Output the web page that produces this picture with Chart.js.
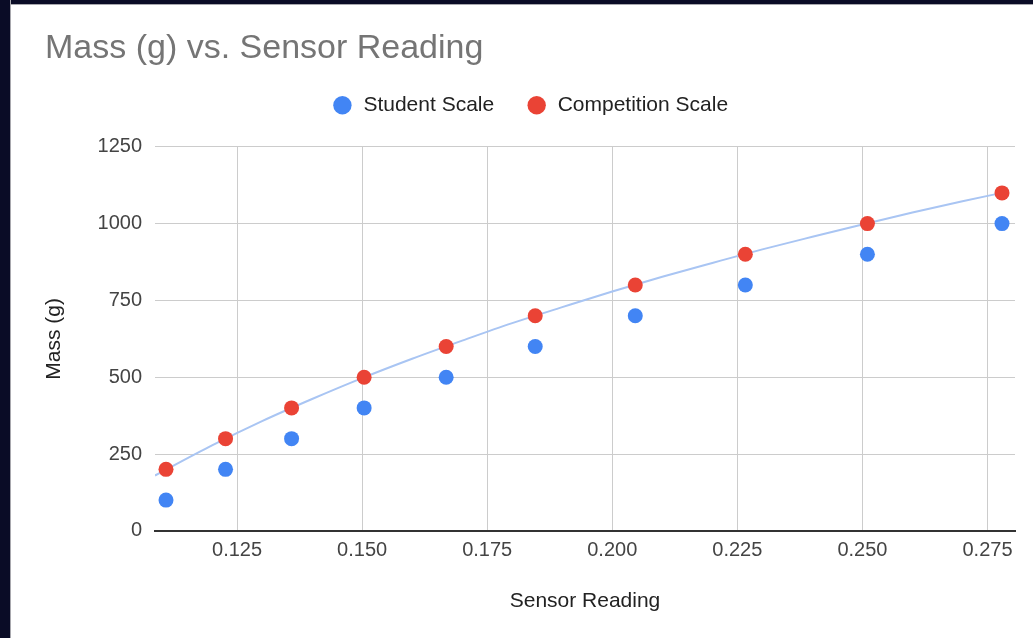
<!DOCTYPE html>
<html>
<head>
<meta charset="utf-8">
<title>Mass (g) vs. Sensor Reading</title>
<script src="https://cdn.jsdelivr.net/npm/chart.js@4.4.1/dist/chart.umd.min.js"></script>
<style>
  html, body { margin: 0; padding: 0; background: #fff; }
  body { width: 1033px; height: 638px; position: relative; overflow: hidden; }
  /* dark slide frame along the top and left edges */
  .frame-top { position: absolute; left: 0; top: 0; width: 1033px; height: 4px; background: #0a0c26; border-bottom: 1px solid #a8a8ae; }
  .frame-left { position: absolute; left: 0; top: 0; width: 10px; height: 638px; background: #0a0c26; border-right: 1px solid #a8a8ae; }
  #wrap { position: absolute; left: 0; top: 0; width: 1033px; height: 638px; }
</style>
</head>
<body>
<div id="wrap"><canvas id="massChart"></canvas></div>
<div class="frame-top"></div>
<div class="frame-left"></div>
<script>
// ---------------------- DATA ----------------------
const sensorReading = [0.1108, 0.1227, 0.1359, 0.1504, 0.1668, 0.1846, 0.2046, 0.2266, 0.2510, 0.2779];
const studentScale = [100, 200, 300, 400, 500, 600, 700, 800, 900, 1000];
const competitionScale = [200, 300, 400, 500, 600, 700, 800, 900, 1000, 1100];

// trendline through the competition readings
const trendReading = [0.1086, 0.12, 0.13, 0.14, 0.15, 0.16, 0.17, 0.18, 0.19, 0.20, 0.21, 0.22, 0.23, 0.24, 0.25, 0.26, 0.27, 0.2779];
const trendMass = [180, 278, 357, 429, 497, 560, 619, 676, 728, 779, 827, 872, 916, 957, 997, 1036, 1073, 1100];

const xTicks = [0.125, 0.150, 0.175, 0.200, 0.225, 0.250, 0.275];
const yTicks = [0, 250, 500, 750, 1000, 1250];

const toPoints = (xs, ys) => xs.map((x, i) => ({ x, y: ys[i] }));

// ---------------------- LEGEND SPACING ----------------------
const legendSpacer = {
  id: "legendSpacer",
  beforeInit(chart) {
    const fit = chart.legend.fit;
    chart.legend.fit = function () {
      fit.call(this);
      this.height += 21;
    };
  },
};

// ---------------------- CHART ----------------------
Chart.defaults.font.family = "'Liberation Sans', Arial, sans-serif";

new Chart(document.getElementById("massChart"), {
  type: "scatter",
  data: {
    datasets: [
      {
        label: "Student Scale",
        data: toPoints(sensorReading, studentScale),
        backgroundColor: "#4285f4",
        borderWidth: 0,
        pointRadius: 7.5,
        pointHoverRadius: 7.5,
        order: 1,
      },
      {
        label: "Competition Scale",
        data: toPoints(sensorReading, competitionScale),
        backgroundColor: "#ea4335",
        borderWidth: 0,
        pointRadius: 7.5,
        pointHoverRadius: 7.5,
        order: 2,
      },
      {
        label: "Trendline",
        data: toPoints(trendReading, trendMass),
        showLine: true,
        borderColor: "#a9c5f3",
        borderWidth: 2,
        pointRadius: 0,
        cubicInterpolationMode: "monotone",
        order: 3,
      },
    ],
  },
  options: {
    responsive: true,
    maintainAspectRatio: false,
    animation: false,
    events: [],
    layout: { padding: { left: 45, right: 18, top: 0, bottom: 24 } },
    plugins: {
      title: {
        display: true,
        text: "Mass (g) vs. Sensor Reading",
        align: "start",
        color: "#757575",
        font: { size: 34, weight: "normal" },
        padding: { top: 28, bottom: -6 },
      },
      legend: {
        position: "top",
        labels: {
          usePointStyle: true,
          pointStyle: "circle",
          boxHeight: 13,
          color: "#222",
          font: { size: 21 },
          padding: 32,
          filter: (item) => item.text !== "Trendline",
        },
      },
      tooltip: { enabled: false },
    },
    scales: {
      x: {
        type: "linear",
        min: 0.1086,
        max: 0.2805,
        afterBuildTicks: (scale) => {
          scale.ticks = xTicks.map((v) => ({ value: v }));
        },
        ticks: {
          color: "#444",
          font: { size: 20 },
          padding: 8,
          callback: (v) => v.toFixed(3),
        },
        grid: { color: "#cccccc", lineWidth: 1, drawTicks: false },
        border: { display: true, color: "#333", width: 2 },
        title: {
          display: true,
          text: "Sensor Reading",
          color: "#222",
          font: { size: 21 },
          padding: { top: 18, bottom: 0 },
        },
      },
      y: {
        min: 0,
        max: 1250,
        afterBuildTicks: (scale) => {
          scale.ticks = yTicks.map((v) => ({ value: v }));
        },
        afterFit: (scale) => {
          scale.width = 110;
        },
        ticks: {
          color: "#444",
          font: { size: 20 },
          padding: 13,
          callback: (v) => String(v),
        },
        grid: {
          color: (c) => (c.tick && c.tick.value === 0 ? "rgba(0,0,0,0)" : "#cccccc"),
          lineWidth: 1,
          drawTicks: false,
        },
        border: { display: false },
        title: {
          display: true,
          text: "Mass (g)",
          color: "#222",
          font: { size: 21 },
          padding: { top: -3, bottom: 0 },
        },
      },
    },
  },
  plugins: [legendSpacer],
});
</script>
</body>
</html>
